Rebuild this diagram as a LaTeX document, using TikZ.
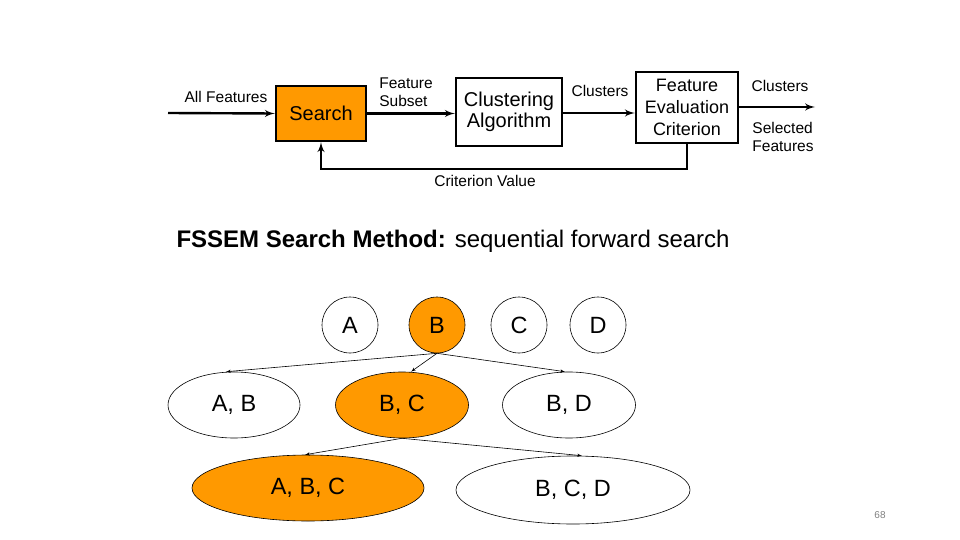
\documentclass[tikz,border=0pt]{standalone}
\usepackage{fontspec}
\setmainfont{Liberation Sans}
\usepackage{tikz}
\usetikzlibrary{shapes,arrows}
\usetikzlibrary{shapes.geometric}
\usetikzlibrary{positioning}
\tikzstyle{line} = [draw, -latex']
\definecolor{srchorange}{HTML}{FF9900}

\begin{document}
\begin{tikzpicture}[x=1pt, y=-1pt,
	box/.style={draw, rectangle, line width=2.4pt, inner sep=0pt, align=center,
		font=\fontsize{20}{22}\selectfont},
	lbl/.style={align=left, font=\fontsize{15.5}{18}\selectfont},
	set/.style={draw, ellipse, inner sep=0pt, line width=0.6pt,
		font=\fontsize{23.5}{26}\selectfont},
	item/.style={set, circle, minimum size=56pt}]
	\useasboundingbox (0,0) rectangle (960,540);
	%% Blocks
	\node [box, fill=srchorange, minimum width=90pt, minimum height=55pt] at (321,113.5) (search) {Search};
	\node [box, minimum width=106pt, minimum height=68pt] at (509,112) (clust) {Clustering\\[-1pt]Algorithm};
	\node [box, minimum width=102pt, minimum height=71pt, font=\fontsize{18}{22}\selectfont] at (687,107.5) (fec) {Feature\\Evaluation\\Criterion};
	\coordinate (in) at (168,113);
	\coordinate (out) at (815,107);
	%% Flows
	\path [line, line width=2.4pt] (in) to (search.west);
	\path [line, line width=2.4pt] (search.east) to (search.east -| clust.west);
	\path [line, line width=2.4pt] (clust.east |- 0,113) to (fec.west |- 0,113);
	\path [line, line width=2.4pt] (fec.east |- out) to (out);
	\draw [-latex', line width=2.4pt] (fec.south) -- ++(0,25) -| (search.south);
	\node [lbl] at (226,97) (allin) {All Features};
	\node [lbl, align=left] at (406,92) (subset) {Feature\\Subset};
	\node [lbl] at (600,91) (clustmid) {Clusters};
	\node [lbl] at (780,86) (clustout) {Clusters};
	\node [lbl] at (783,137) (selout) {Selected\\Features};
	\node [lbl] at (485,181) (critval) {Criterion Value};
	%% Title
	\node [anchor=west, font=\fontsize{24}{28}\selectfont] at (173,241) (title)
		{\textbf{FSSEM Search Method:} sequential forward search};
	%% Search tree
	\node [item] at (350,325) (a) {A};
	\node [item, fill=srchorange] at (437,325) (b) {B};
	\node [item] at (519,325) (c) {C};
	\node [item] at (598,325) (d) {D};
	\node [set, minimum width=132pt, minimum height=66pt] at (234,405) (ab) {A, B};
	\node [set, fill=srchorange, minimum width=133pt, minimum height=66pt] at (402,405) (bc) {\raisebox{-3pt}{B, C}};
	\node [set, minimum width=133pt, minimum height=66pt] at (569,405) (bd) {B, D};
	\node [set, fill=srchorange, minimum width=232pt, minimum height=66pt] at (308,488) (abc) {A, B, C};
	\node [set, minimum width=234pt, minimum height=68pt] at (573,490) (bcd) {B, C, D};
	\path [line, line width=0.6pt] (b.south) to ([xshift=-8pt]ab.north);
	\path [line, line width=0.6pt] (b.south) to ([xshift=9pt]bc.north);
	\path [line, line width=0.6pt] (b.south) to ([xshift=-4pt]bd.north);
	\path [line, line width=0.6pt] (bc.south) to ([xshift=-3pt]abc.north);
	\path [line, line width=0.6pt] (bc.south) to ([xshift=9pt]bcd.north);
	%% Page number
	\node [text=gray, font=\fontsize{10}{12}\selectfont] at (880,515) (page) {68};
\end{tikzpicture}
\end{document}
